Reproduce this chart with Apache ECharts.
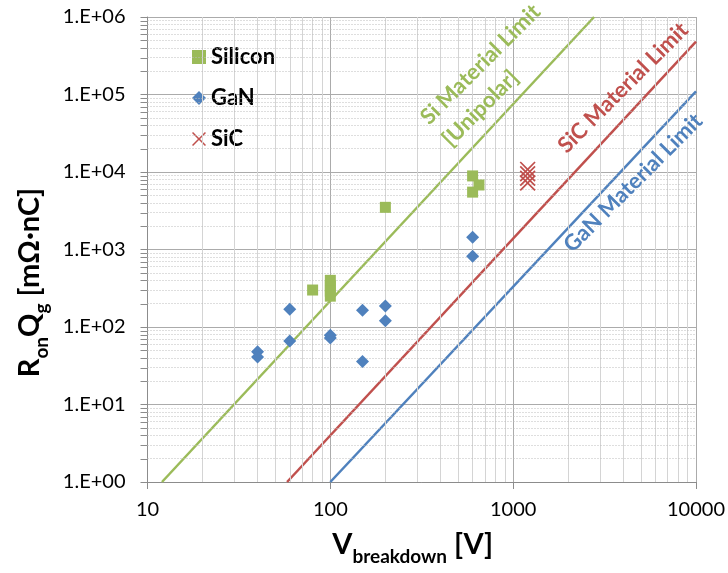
<!DOCTYPE html>
<html>
<head>
<meta charset="utf-8">
<script src="https://cdn.jsdelivr.net/npm/echarts@6/dist/echarts.min.js"></script>
<style>
html,body{margin:0;padding:0;background:#fff;}
#chart{width:728px;height:573px;}
</style>
</head>
<body>
<div id="chart"></div>
<script>
// ---- data ----
const xTickLabels = ['10', '100', '1000', '10000'];
const yTickLabels = ['1.E+00', '1.E+01', '1.E+02', '1.E+03', '1.E+04', '1.E+05', '1.E+06'];

const siliconData = [[80, 300], [100, 400], [100, 340], [100, 290], [100, 250], [200, 3500], [600, 8900], [650, 6800], [600, 5500]];
const ganData = [[40, 48], [40, 41], [60, 170], [60, 66], [100, 78], [100, 72], [150, 165], [150, 36], [200, 186], [200, 120], [600, 1440], [600, 820]];
const sicData = [[1200, 10800], [1200, 9500], [1200, 8300], [1200, 7200]];

const siLimit = [[12, 1], [2770, 1e6]];
const sicLimit = [[58, 1], [10000, 4.8e5]];
const ganLimit = [[100, 1], [10000, 1.1e5]];

const xMinor = [20,30,40,50,60,70,80,90,200,300,400,500,600,700,800,900,2000,3000,4000,5000,6000,7000,8000,9000];
const yMinor = [];
[1,10,100,1000,10000,100000].forEach(d => { for (let k = 2; k <= 9; k++) yMinor.push(k * d); });

// ---- style ----
const GREEN = '#9BBB59', BLUE = '#4F81BD', RED = '#C0504D';
const AXIS = '#8C8C8C';
const FONT = 'Lato';
const crossPath = 'path://M0,1.5 L1.5,0 L10,8.5 L18.5,0 L20,1.5 L11.5,10 L20,18.5 L18.5,20 L10,11.5 L1.5,20 L0,18.5 L8.5,10 Z';

const chart = echarts.init(document.getElementById('chart'), null, {renderer: 'canvas'});

const gridMarks = [];
xMinor.forEach(v => gridMarks.push({xAxis: v, lineStyle: {color: '#D4D4D4', width: 1, type: 'solid'}}));
yMinor.forEach(v => gridMarks.push({yAxis: v, lineStyle: {color: '#BDBDBD', width: 1, type: [1, 2]}}));

function limitSeries(name, data, color, text, coord, size, lh) {
  return {
    name: name, type: 'line', data: data, showSymbol: false, symbol: 'none',
    lineStyle: {color: color, width: 2.5}, itemStyle: {color: color},
    z: 3, silent: true, animation: false,
    markPoint: {
      symbol: 'circle', symbolSize: 0, silent: true, animation: false,
      label: {
        show: true, position: 'inside', rotate: 45,
        align: lh ? 'left' : 'center', verticalAlign: 'middle',
        formatter: text.map(t => '{a|' + t + '}').join('\n'),
        rich: {a: {color: color, fontFamily: FONT, fontSize: size, fontWeight: 'bold', lineHeight: lh || size + 4}}
      },
      data: [{coord: coord}]
    }
  };
}

const rich = {
  m: {fontFamily: FONT, fontSize: 29, fontWeight: 'bold', color: '#000', lineHeight: 34, verticalAlign: 'top'},
  s: {fontFamily: FONT, fontSize: 19, fontWeight: 'bold', color: '#000', lineHeight: 22, verticalAlign: 'top', padding: [17, 0, 0, 0]}
};

const option = {
  animation: false,
  backgroundColor: '#fff',
  textStyle: {fontFamily: FONT},
  grid: {left: 147.5, right: 32, top: 17, bottom: 91, containLabel: false},
  legend: {
    data: ['Silicon', 'GaN', 'SiC'],
    orient: 'vertical', left: 187, top: 41,
    itemWidth: 14, itemHeight: 14, itemGap: 19,
    textStyle: {fontFamily: FONT, fontSize: 22, fontWeight: 'bold', color: '#000'},
    selectedMode: false
  },
  xAxis: {
    type: 'log', logBase: 10, min: 10, max: 10000,
    axisLine: {show: true, lineStyle: {color: AXIS, width: 1}},
    axisTick: {show: true, inside: false, length: 7, lineStyle: {color: AXIS}},
    axisLabel: {
      fontFamily: FONT, fontSize: 20, color: '#000', margin: 18,
      formatter: v => xTickLabels[Math.round(Math.log10(v)) - 1]
    },
    splitLine: {show: true, lineStyle: {color: '#ABABAB', width: 1}},
    name: '{m|V}{s|breakdown}{m| [V]}',
    nameLocation: 'middle', nameGap: 48,
    nameTextStyle: {padding: [0, 18, 0, 0], rich: rich}
  },
  yAxis: {
    type: 'log', logBase: 10, min: 1, max: 1e6,
    axisLine: {show: true, lineStyle: {color: AXIS, width: 1}},
    axisTick: {show: true, inside: false, length: 7, lineStyle: {color: AXIS}},
    axisLabel: {
      fontFamily: FONT, fontSize: 20, color: '#000', margin: 22,
      formatter: v => yTickLabels[Math.round(Math.log10(v))]
    },
    splitLine: {show: true, lineStyle: {color: '#ABABAB', width: 1}},
    name: '{m|R}{s|on}{m|Q}{s|g}{m| [mΩ·nC]}',
    nameLocation: 'middle', nameGap: 98, nameRotate: 90,
    nameTextStyle: {padding: [0, 66, 0, 0], rich: rich}
  },
  series: [
    {
      type: 'line', data: [], silent: true, z: 1,
      markLine: {silent: true, symbol: ['none', 'none'], label: {show: false}, animation: false, data: gridMarks}
    },
    {
      // minor tick marks on the y axis (outside the plot)
      type: 'custom', silent: true, z: 2, clip: false,
      data: yMinor.map(v => [10, v]),
      renderItem: function (params, api) {
        const p = api.coord([api.value(0), api.value(1)]);
        return {
          type: 'line',
          shape: {x1: p[0] - 7, y1: Math.round(p[1]) + 0.5, x2: p[0], y2: Math.round(p[1]) + 0.5},
          style: {stroke: AXIS, lineWidth: 1}
        };
      }
    },
    limitSeries('Si limit', siLimit, GREEN, ['Si Material Limit', '[Unipolar]'], [374, 3.3e4], 22, 31),
    limitSeries('SiC limit', sicLimit, RED, ['SiC Material Limit'], [3990, 1.22e5], 22),
    limitSeries('GaN limit', ganLimit, BLUE, ['GaN Material Limit'], [4530, 7230], 22),
    {
      name: 'Silicon', type: 'scatter', data: siliconData, symbol: 'rect', symbolSize: 11,
      itemStyle: {color: GREEN, opacity: 1}, z: 5
    },
    {
      name: 'GaN', type: 'scatter', data: ganData, symbol: 'diamond', symbolSize: 13,
      itemStyle: {color: BLUE, opacity: 1}, z: 5
    },
    {
      name: 'SiC', type: 'scatter', data: sicData, symbol: crossPath, symbolSize: 16,
      itemStyle: {color: RED, opacity: 1}, z: 5
    }
  ]
};
chart.setOption(option);
</script>
</body>
</html>
